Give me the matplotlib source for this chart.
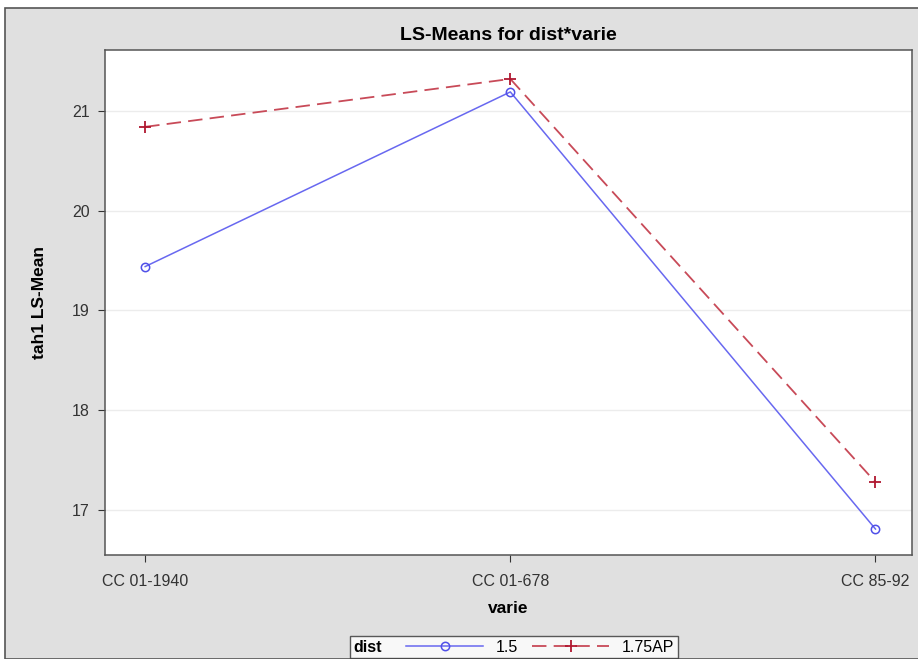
import matplotlib
matplotlib.use("Agg")
import matplotlib.pyplot as plt
from matplotlib.patches import Rectangle
from matplotlib.offsetbox import HPacker

plt.rcParams['font.family'] = ['Liberation Sans', 'DejaVu Sans']

# LS-means
varie = ["CC 01-1940", "CC 01-678", "CC 85-92"]
mean_15 = [19.44, 21.19, 16.81]
mean_175ap = [20.84, 21.32, 17.28]
yticks = [17, 18, 19, 20, 21]

bg = '#e0e0e0'
fig = plt.figure(figsize=(9.18, 6.59), dpi=100)
fig.patch.set_facecolor('white')
# gray panel with a dark frame on the left/top
fig.patches.append(Rectangle((5 / 918, 0), 1.0, 1 - 8 / 659, transform=fig.transFigure,
                             facecolor=bg, edgecolor='#555555', linewidth=1.2, zorder=-10))

ax = fig.add_axes([105 / 918, 1 - 555 / 659, (912 - 105) / 918, (555 - 50) / 659])
ax.set_facecolor('white')

x = list(range(len(varie)))
ax.plot(x, mean_15, color='#6868f0', linewidth=1.1, marker='o', markersize=6,
        markerfacecolor='none', markeredgecolor='#5050e8', markeredgewidth=1.1, label='1.5')
ax.plot(x, mean_175ap, color='#c84a58', linewidth=1.3, linestyle=(0, (8, 4)), marker='+',
        markersize=8, markeredgecolor='#b01830', markeredgewidth=1.3, label='1.75AP')

ax.set_xlim(-0.11, 2.10)
ax.set_ylim(16.55, 21.61)
ax.set_xticks(x)
ax.set_xticklabels(varie, fontsize=11.5, color='#333333')
ax.set_yticks(yticks)
ax.set_yticklabels([str(v) for v in yticks], fontsize=11.5, color='#333333')
ax.grid(axis='y', color='#ececec', linewidth=1)
ax.set_axisbelow(True)
ax.tick_params(direction='out', length=5, color='#333333')
ax.tick_params(axis='x', pad=9)
ax.tick_params(axis='y', pad=6)
for s in ax.spines.values():
    s.set_color('#555555')
    s.set_linewidth(1.1)

ax.set_title("LS-Means for dist*varie", fontsize=14, fontweight='bold', pad=7)
ax.set_xlabel("varie", fontsize=12.5, fontweight='bold', labelpad=8)
ax.set_ylabel("tah1 LS-Mean", fontsize=12.5, fontweight='bold', labelpad=18)

leg = fig.legend(loc='center', bbox_to_anchor=(514 / 918, 1 - 647 / 659), ncol=2,
                 title='dist', fontsize=11.5, title_fontsize=11.5, frameon=True,
                 fancybox=False, edgecolor='#333333', handlelength=4.8,
                 columnspacing=0.9, handletextpad=0.8, borderpad=0.25)
leg.get_frame().set_facecolor('white')
leg.get_frame().set_linewidth(1.0)
leg.get_title().set_fontweight('bold')
# put the title on the left of the entries, like SAS does
fs = leg._fontsize
leg._legend_box = HPacker(pad=leg.borderpad * fs, sep=1.5 * fs, align='center',
                          children=[leg._legend_title_box, leg._legend_handle_box])
leg._legend_box.set_figure(fig)
leg._legend_box.set_offset(leg._findoffset)

fig.savefig("out.png", dpi=100)
